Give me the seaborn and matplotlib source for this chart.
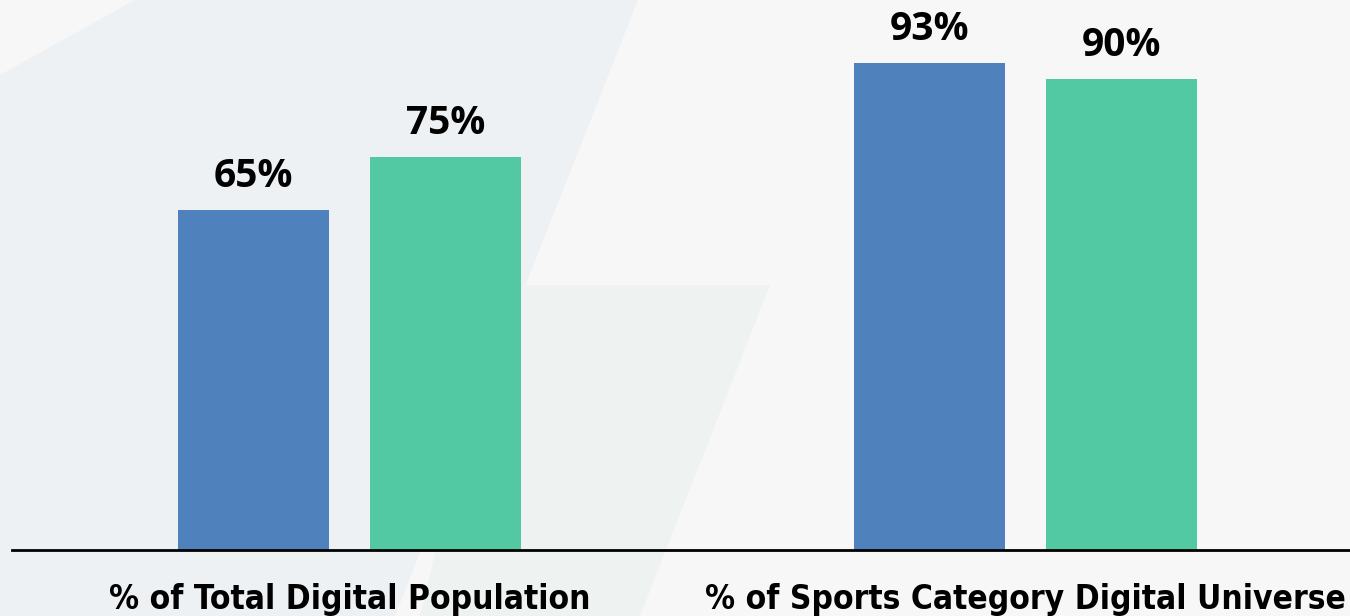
import matplotlib
matplotlib.use("Agg")
import matplotlib.pyplot as plt
import seaborn as sns
import pandas as pd
from matplotlib.patches import Polygon

categories = ["% of Total Digital Population", "% of Sports Category Digital Universe"]
series_names = ["Series A", "Series B"]
series_a = [65, 93]
series_b = [75, 90]
value_labels_a = ["65%", "93%"]
value_labels_b = ["75%", "90%"]

df = pd.DataFrame({
    "category": categories * 2,
    "series": [series_names[0]] * 2 + [series_names[1]] * 2,
    "value": series_a + series_b,
})

sns.set_theme(style="white")
plt.rcParams["font.family"] = ["Open Sans", "DejaVu Sans"]

W, H = 1350, 616
fig = plt.figure(figsize=(W / 100, H / 100), dpi=100)
fig.patch.set_facecolor("#f7f7f7")

# subtle background decoration (figure pixel coords)
def px(pts):
    return [(x / W, 1 - y / H) for x, y in pts]

fig.patches.append(Polygon(px([(0, 75), (135, 0), (638, 0), (395, 616), (0, 616)]),
                           closed=True, transform=fig.transFigure, facecolor="#edf1f4",
                           edgecolor="none", zorder=-10))
fig.patches.append(Polygon(px([(500, 285), (770, 285), (640, 616), (420, 616)]),
                           closed=True, transform=fig.transFigure, facecolor="#eef2f0",
                           edgecolor="none", zorder=-9))

ax = fig.add_axes([12 / W, 1 - 550 / H, 1338 / W, 550 / H])
ax.set_facecolor("none")
ax.set_zorder(1)

sns.barplot(data=df, x="category", y="value", hue="series",
            palette=["#4f81bd", "#52c9a2"], width=0.568, gap=0.2135,
            saturation=1, linewidth=0, ax=ax, legend=False)

ax.set_ylim(0, 105)
ax.set_xlim(-0.4993, 1.48)

labels = [value_labels_a, value_labels_b]
for cont, labs in zip(ax.containers, labels):
    ax.bar_label(cont, labels=labs, padding=10, fontsize=28, fontweight="bold",
                 color="black")

for s in ["top", "right", "left"]:
    ax.spines[s].set_visible(False)
ax.spines["bottom"].set_color("black")
ax.spines["bottom"].set_linewidth(2)
ax.set_yticks([])
ax.set_xlabel("")
ax.set_ylabel("")
ax.tick_params(axis="x", length=0, pad=24, colors="black")
for t in ax.get_xticklabels():
    t.set_fontsize(24)
    t.set_fontweight("bold")
    t.set_fontstretch("condensed")
    t.set_family(["DejaVu Sans", "Open Sans"])
    t.set_color("black")

fig.savefig("out.png", dpi=100, facecolor=fig.get_facecolor())
